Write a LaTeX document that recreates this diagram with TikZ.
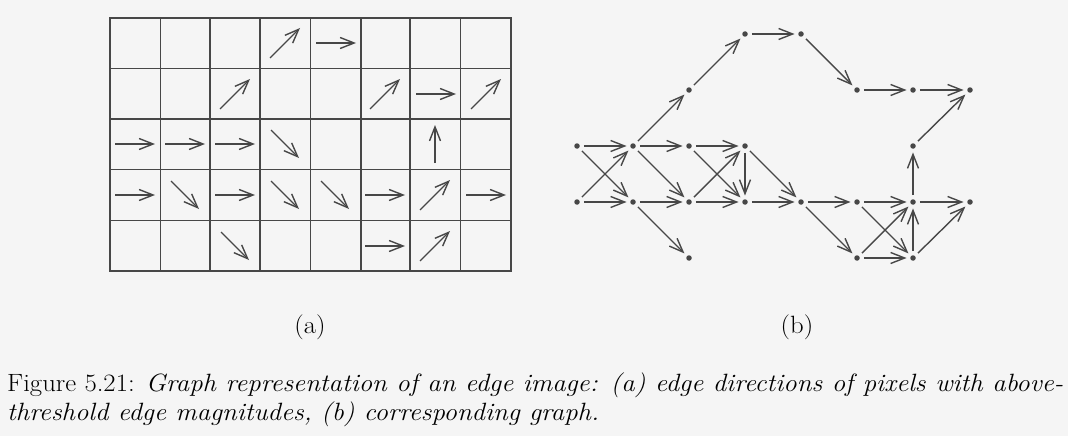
\documentclass[tikz,border=0pt]{standalone}
\usepackage{fontspec}
\usepackage{tikz}
\usetikzlibrary{arrows.meta}

\colorlet{ink}{black!72}

\begin{document}
\begin{tikzpicture}[x=1pt, y=-1pt,
        >={Straight Barb[length=14pt, width=11pt]},
        main/.style = {circle, fill=ink, inner sep=0pt, minimum size=5.5pt},
        link/.style = {->, ink, line width=1.4pt, shorten <=4pt, shorten >=3.5pt},
        cell/.style = {->, ink, line width=1.4pt},
        gridline/.style = {ink, line width=1.6pt},
        sublabel/.style = {font=\fontsize{25}{29}\selectfont, inner sep=0pt},
        caption/.style = {font=\fontsize{25}{29}\selectfont, inner sep=0pt}]
    \fill[black!4] (0,0) rectangle (1068,436);
    \useasboundingbox (0,0) rectangle (1068,436);

    % (a) pixel grid
    \draw[gridline] (110,18) rectangle (511,271);
    \draw[gridline] (160.5,18) -- (160.5,271);
    \draw[gridline] (210,18) -- (210,271);
    \draw[gridline] (260,18) -- (260,271);
    \draw[gridline] (310.5,18) -- (310.5,271);
    \draw[gridline] (361,18) -- (361,271);
    \draw[gridline] (410,18) -- (410,271);
    \draw[gridline] (460.5,18) -- (460.5,271);
    \draw[gridline] (110,68.5) -- (511,68.5);
    \draw[gridline] (110,119) -- (511,119);
    \draw[gridline] (110,169.5) -- (511,169.5);
    \draw[gridline] (110,220.5) -- (511,220.5);

    % edge directions, one per pixel
    \draw[cell, shift={(285,43)}] (-15,15) -- (15,-15);
    \draw[cell, shift={(336,43)}] (-20,0) -- (20,0);
    \draw[cell, shift={(235,94)}] (-15,15) -- (15,-15);
    \draw[cell, shift={(385,94)}] (-15,15) -- (15,-15);
    \draw[cell, shift={(436,94)}] (-20,0) -- (20,0);
    \draw[cell, shift={(486,94)}] (-15,15) -- (15,-15);
    \draw[cell, shift={(135,144)}] (-20,0) -- (20,0);
    \draw[cell, shift={(185,144)}] (-20,0) -- (20,0);
    \draw[cell, shift={(235,144)}] (-20,0) -- (20,0);
    \draw[cell, shift={(285,144)}] (-14,-14) -- (14,14);
    \draw[cell, shift={(435,144)}] (0,19) -- (0,-19);
    \draw[cell, shift={(135,195)}] (-20,0) -- (20,0);
    \draw[cell, shift={(185,195)}] (-14,-14) -- (14,14);
    \draw[cell, shift={(235,195)}] (-20,0) -- (20,0);
    \draw[cell, shift={(285,195)}] (-14,-14) -- (14,14);
    \draw[cell, shift={(335,195)}] (-14,-14) -- (14,14);
    \draw[cell, shift={(385,195)}] (-20,0) -- (20,0);
    \draw[cell, shift={(435,195)}] (-15,15) -- (15,-15);
    \draw[cell, shift={(486,195)}] (-20,0) -- (20,0);
    \draw[cell, shift={(235,246)}] (-14,-14) -- (14,14);
    \draw[cell, shift={(385,246)}] (-20,0) -- (20,0);
    \draw[cell, shift={(435,246)}] (-15,15) -- (15,-15);

    % (b) graph, node name = column and row of the pixel
    \node[main] (30) at (745,34) {};
    \node[main] (40) at (801,34) {};
    \node[main] (21) at (689,90) {};
    \node[main] (51) at (857,90) {};
    \node[main] (61) at (913,90) {};
    \node[main] (71) at (970,90) {};
    \node[main] (02) at (577,146) {};
    \node[main] (12) at (633,146) {};
    \node[main] (22) at (689,146) {};
    \node[main] (32) at (745,146) {};
    \node[main] (62) at (913,146) {};
    \node[main] (03) at (577,202) {};
    \node[main] (13) at (633,202) {};
    \node[main] (23) at (689,202) {};
    \node[main] (33) at (745,202) {};
    \node[main] (43) at (801,202) {};
    \node[main] (53) at (857,202) {};
    \node[main] (63) at (913,202) {};
    \node[main] (73) at (970,202) {};
    \node[main] (24) at (689,258) {};
    \node[main] (54) at (857,258) {};
    \node[main] (64) at (913,258) {};

    \draw[link] (30) -- (40);
    \draw[link] (40) -- (51);
    \draw[link] (21) -- (30);
    \draw[link] (51) -- (61);
    \draw[link] (61) -- (71);
    \draw[link] (62) -- (71);
    \draw[link] (02) -- (12);
    \draw[link] (12) -- (22);
    \draw[link] (22) -- (32);
    \draw[link] (12) -- (21);
    \draw[link] (02) -- (13);
    \draw[link] (03) -- (12);
    \draw[link] (12) -- (23);
    \draw[link] (22) -- (33);
    \draw[link] (23) -- (32);
    \draw[link] (32) -- (33);
    \draw[link] (32) -- (43);
    \draw[link] (03) -- (13);
    \draw[link] (13) -- (23);
    \draw[link] (23) -- (33);
    \draw[link] (33) -- (43);
    \draw[link] (13) -- (24);
    \draw[link] (43) -- (53);
    \draw[link] (43) -- (54);
    \draw[link] (53) -- (63);
    \draw[link] (53) -- (64);
    \draw[link] (54) -- (63);
    \draw[link] (54) -- (64);
    \draw[link] (64) -- (63);
    \draw[link] (63) -- (62);
    \draw[link] (63) -- (73);
    \draw[link] (64) -- (73);

    \node[sublabel, anchor=base] (la) at (310,333) {\scalebox{1.07}[1]{(a)}};
    \node[sublabel, anchor=base] (lb) at (797,333) {\scalebox{1.07}[1]{(b)}};

    \node[caption, anchor=base west] (cap) at (7,391) {\scalebox{1.07}[1]{\parbox[t]{987pt}{Figure 5.21: \textit{Graph representation of an edge image: (a) edge directions of pixels with above-\linebreak threshold edge magnitudes, (b) corresponding graph.}}}};
\end{tikzpicture}
\end{document}
